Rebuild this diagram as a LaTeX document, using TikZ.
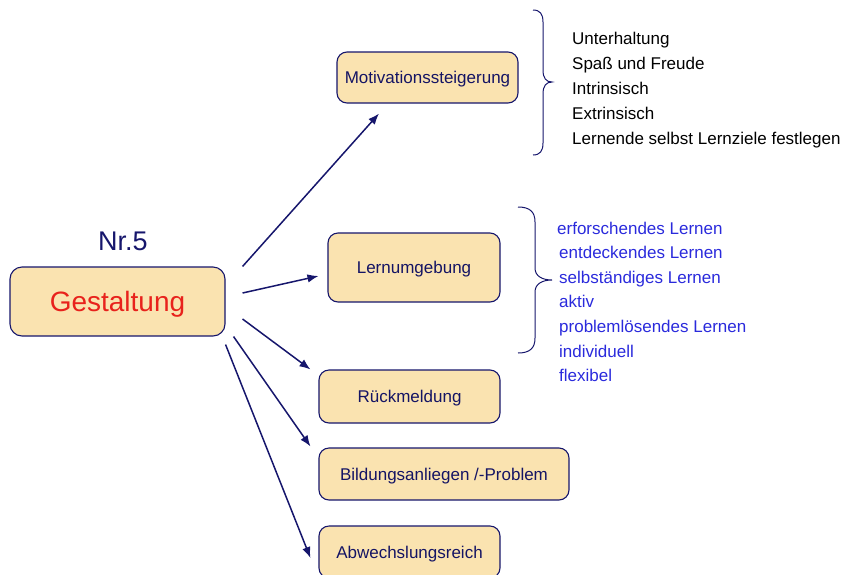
\documentclass[tikz,border=0pt]{standalone}
\usepackage{fontspec}
\setmainfont{Liberation Sans}
\usetikzlibrary{arrows.meta,calc}
\definecolor{boxfill}{RGB}{250,227,176}
\definecolor{navy}{RGB}{22,22,108}
\definecolor{boxtext}{RGB}{20,20,100}
\definecolor{titlered}{RGB}{232,34,28}
\definecolor{listblue}{RGB}{42,42,220}
\begin{document}
\begin{tikzpicture}[x=1pt,y=-1pt,
  box/.style={draw=navy,line width=1.1pt,fill=boxfill,rounded corners=10pt,
    text=boxtext,font=\fontsize{17}{20}\selectfont,
    text height=12.2pt,text depth=0pt,inner sep=0pt},
  link/.style={draw=navy,line width=1.5pt,-{Latex[length=11pt,width=8.5pt]}},
  item/.style={anchor=base west,inner sep=0pt,font=\fontsize{17}{20}\selectfont},
  brace/.style={draw=navy,line width=1pt}]
\useasboundingbox (0,0) rectangle (846,574);
\clip (0,0) rectangle (846,574);

% central topic
\node[anchor=base,inner sep=0pt,text=navy,font=\fontsize{27}{30}\selectfont] (nr) at (123,250) {Nr.5};
\node[box,rounded corners=12pt,minimum width=215pt,minimum height=69pt,
  text=titlered,font=\fontsize{28}{32}\selectfont,text height=20pt] (g) at (117.5,301.5) {Gestaltung};

% aspects
\node[box,minimum width=181pt,minimum height=51pt] (mot) at (427.5,77.5) {Motivationssteigerung};
\node[box,minimum width=172pt,minimum height=69pt] (lern) at (414,267.5) {Lernumgebung};
\node[box,minimum width=181pt,minimum height=53pt] (rueck) at (409.5,396.5) {Rückmeldung};
\node[box,minimum width=250pt,minimum height=52pt] (bild) at (444,474) {Bildungsanliegen /-Problem};
\node[box,minimum width=181pt,minimum height=52pt] (abw) at (409.5,552) {Abwechslungsreich};

% connectors
\draw[link] ($(g.north east)+(17,0)$) -- ($(mot.south)+(-48.5,10)$);
\draw[link] ($(g.east)+(17,-8.5)$) -- ($(lern.west)+(-9,8.5)$);
\draw[link] ($(g.east)+(17,17.5)$) -- ($(rueck.north west)+(-8,0)$);
\draw[link] ($(g.south east)+(8,0)$) -- ($(bild.north west)+(-8,-1)$);
\draw[link] ($(g.south east)+(0,8)$) -- ($(abw.west)+(-8,6)$);

% brace and list for motivation
\draw[brace] (533,10) .. controls (540,10) and (543,14) .. (543,22) -- (543,70)
  .. controls (543,78) and (546,82) .. (552,82)
  .. controls (546,82) and (543,86) .. (543,94) -- (543,143)
  .. controls (543,151) and (540,155) .. (533,155);
\node[item] (m1) at (572,44) {Unterhaltung};
\node[item] (m2) at (572,69) {Spaß und Freude};
\node[item] (m3) at (572,94) {Intrinsisch};
\node[item] (m4) at (572,119) {Extrinsisch};
\node[item] (m5) at (572,144) {Lernende selbst Lernziele festlegen};

% brace and list for learning environment
\draw[brace] (518,207) .. controls (530,207) and (535,212) .. (535,222) -- (535,268)
  .. controls (535,276) and (542,280) .. (552,280)
  .. controls (542,280) and (535,284) .. (535,292) -- (535,338)
  .. controls (535,348) and (530,353) .. (518,353);
\begin{scope}[every node/.style={item,text=listblue}]
\node (l1) at (557,234) {erforschendes Lernen};
\node (l2) at (559,258.6) {entdeckendes Lernen};
\node (l3) at (559,283.2) {selbständiges Lernen};
\node (l4) at (559,307.8) {aktiv};
\node (l5) at (559,332.4) {problemlösendes Lernen};
\node (l6) at (559,357) {individuell};
\node (l7) at (559,381.6) {flexibel};
\end{scope}
\end{tikzpicture}
\end{document}
